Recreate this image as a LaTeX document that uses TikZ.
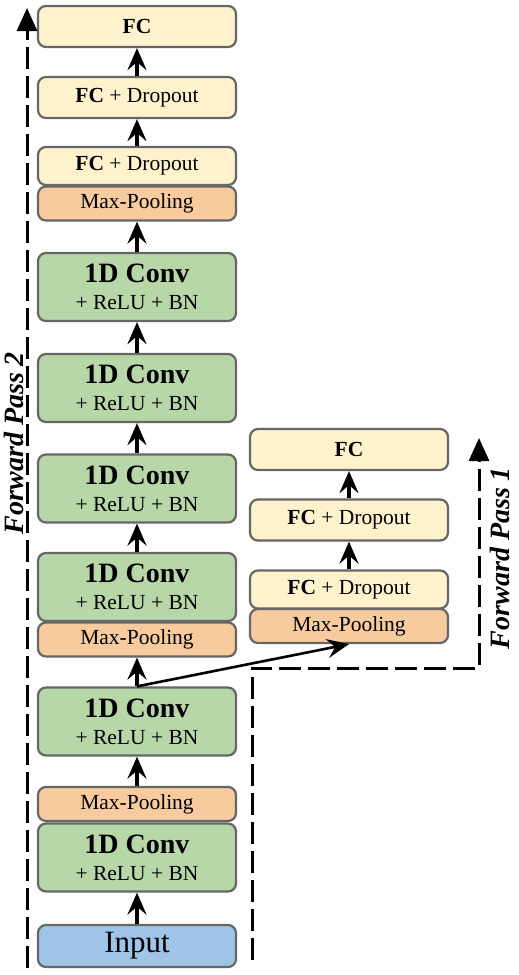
\documentclass[tikz,border=0pt]{standalone}
\usepackage{fontspec}
\setmainfont{Liberation Serif}
\usetikzlibrary{
  arrows.meta
}
\definecolor{boxgray}{HTML}{666666}
\definecolor{convgreen}{HTML}{B7D7A8}
\definecolor{poolorange}{HTML}{F8CB9E}
\definecolor{fcyellow}{HTML}{FFF2CC}
\definecolor{inpblue}{HTML}{9FC4E7}

\begin{document}
\begin{tikzpicture}[
  x=1pt, y=-1pt,
  box/.style={draw=boxgray, line width=2.2pt, rounded corners=8pt,
    minimum width=198pt, inner sep=0pt, align=center,
    font=\fontsize{21.5}{27}\selectfont},
  conv/.style={box, fill=convgreen, minimum height=68pt},
  pool/.style={box, fill=poolorange, minimum height=34pt},
  fc/.style={box, fill=fcyellow, minimum height=41pt},
  fcdrop/.style={box, fill=fcyellow, minimum height=38pt},
  inp/.style={box, fill=inpblue, minimum height=42pt,
    font=\fontsize{31}{31}\selectfont},
  flow/.style={line width=3.2pt, -{Stealth[length=22pt,width=19pt,inset=8pt]}},
  pass/.style={line width=3pt, dash pattern=on 22pt off 7pt,
    -{Triangle[length=23pt,width=20pt]}},
  passlabel/.style={rotate=90, font=\fontsize{28}{28}\selectfont\bfseries\itshape},
]
\useasboundingbox (0,0) rectangle (519,975);

% main branch
\node[inp] (input) at (137,946) {Input};
\foreach \n/\y in {convF/857.5, convE/721.5, convD/587, convC/488.5, convB/388, convA/287}
  \node[conv] (\n) at (137,\y) {{\fontsize{28}{27}\selectfont\bfseries 1D Conv}\\+ ReLU + BN};
\node[pool] (poolA) at (137,804) {Max-Pooling};
\node[pool] (poolB) at (137,639.5) {Max-Pooling};
\node[pool] (poolC) at (137,203.5) {Max-Pooling};
\node[fcdrop] (fcA) at (137,166) {\textbf{FC} + Dropout};
\node[fc] (fcB) at (137,97.5) {\textbf{FC} + Dropout};
\node[fc] (fcC) at (137,26.5) {\textbf{FC}};

% side branch
\node[pool] (sidepool) at (349,626) {Max-Pooling};
\node[fcdrop] (sidefcA) at (349,589.5) {\textbf{FC} + Dropout};
\node[fc] (sidefcB) at (349,520) {\textbf{FC} + Dropout};
\node[fc] (sidefcC) at (349,449.5) {\textbf{FC}};

\draw[flow] (input) -- (convF);
\draw[flow] (poolA) -- (convE);
\draw[flow] (convE) -- (poolB);
\draw[flow] (convD) -- (convC);
\draw[flow] (convC) -- (convB);
\draw[flow] (convB) -- (convA);
\draw[flow] (convA) -- (poolC);
\draw[flow] (fcA) -- (fcB);
\draw[flow] (fcB) -- (fcC);
\draw[flow, line width=2.6pt] (convE.north) -- (sidepool.south);
\draw[flow] (sidefcA) -- (sidefcB);
\draw[flow] (sidefcB) -- (sidefcC);

% forward passes
\coordinate (passTwoStart) at (27,968);
\coordinate (passTwoEnd) at (27,8);
\coordinate (passOneStart) at (252,960);
\coordinate (passOneEnd) at (479,438);
\draw[pass] (passTwoStart) -- (passTwoEnd);
\draw[pass] (passOneStart) |- (479,668) -- (passOneEnd);
\node[passlabel] (passTwo) at (14,443) {Forward Pass 2};
\node[passlabel] (passOne) at (500,558) {Forward Pass 1};
\end{tikzpicture}
\end{document}
